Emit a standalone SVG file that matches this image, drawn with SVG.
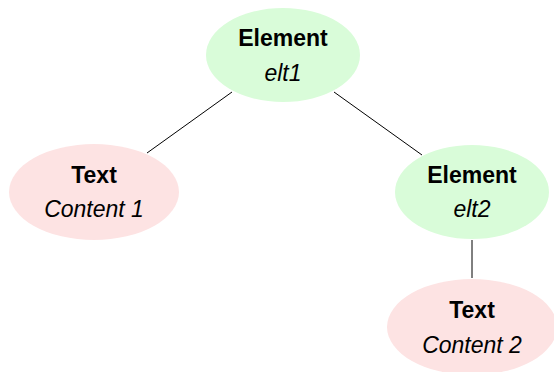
<svg xmlns="http://www.w3.org/2000/svg" width="554" height="372" viewBox="0 0 554 372">
<style>
.el{fill:#d9fcd9;stroke:none}
.tx{fill:#fde3e3;stroke:none}
.t1{font-family:"Liberation Sans",Arial,sans-serif;font-weight:bold;font-size:23px;fill:#000;text-anchor:middle}
.t2{font-family:"Liberation Sans",Arial,sans-serif;font-style:italic;font-size:23px;fill:#000;text-anchor:middle}
.edge{stroke:#000;stroke-width:1;fill:none}
</style>
<rect width="554" height="372" fill="#fff"/>
<g id="connectors">
<line class="edge" x1="232" y1="92" x2="147" y2="153"/>
<line class="edge" x1="334" y1="92" x2="422" y2="155"/>
<line class="edge" x1="472" y1="240" x2="472" y2="278"/>
</g>
<g id="elt1">
<ellipse class="el" cx="283" cy="55" rx="77" ry="47"/>
<text class="t1" x="283" y="46">Element</text>
<text class="t2" x="283" y="81">elt1</text>
</g>
<g id="content1">
<ellipse class="tx" cx="94" cy="192" rx="85" ry="48"/>
<text class="t1" x="94" y="183">Text</text>
<text class="t2" x="94" y="217">Content 1</text>
</g>
<g id="elt2">
<ellipse class="el" cx="472" cy="192" rx="77" ry="47"/>
<text class="t1" x="472" y="183">Element</text>
<text class="t2" x="472" y="217">elt2</text>
</g>
<g id="content2">
<ellipse class="tx" cx="472" cy="327" rx="85" ry="48"/>
<text class="t1" x="472" y="318">Text</text>
<text class="t2" x="472" y="353">Content 2</text>
</g>
</svg>
